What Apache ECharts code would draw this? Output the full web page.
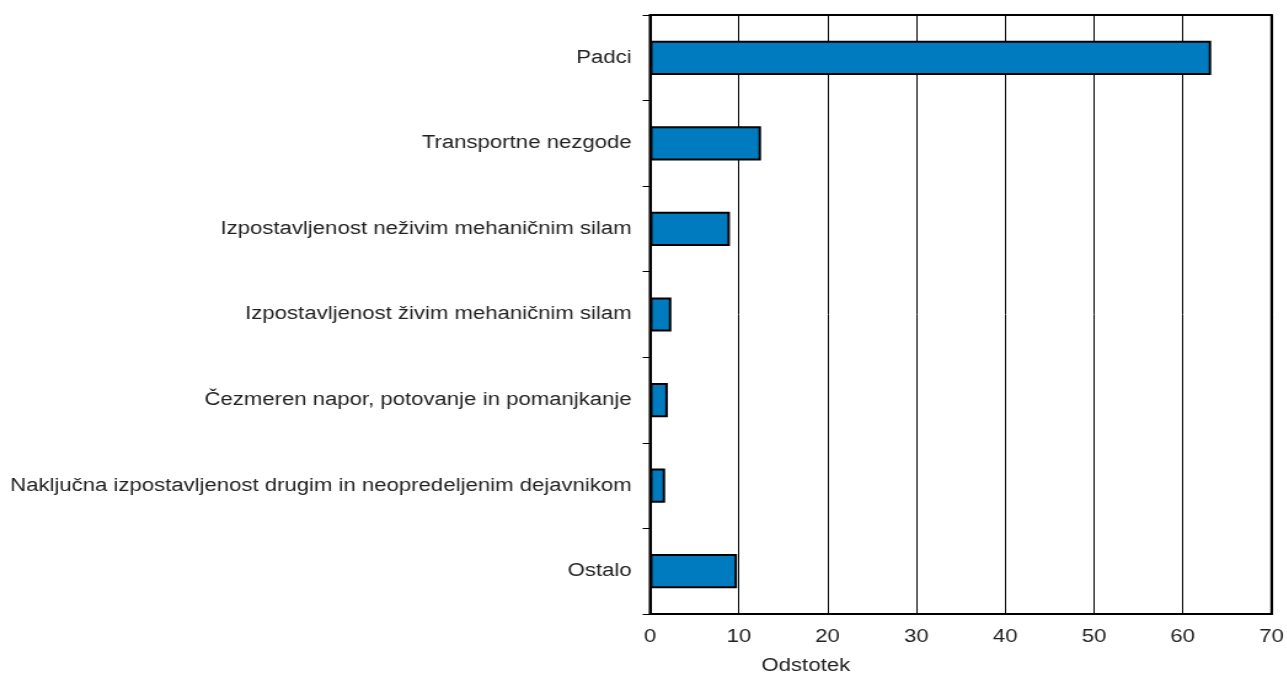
<!DOCTYPE html>
<html>
<head>
<meta charset="utf-8">
<script src="https://cdn.jsdelivr.net/npm/echarts@6/dist/echarts.min.js"></script>
<style>
html,body{margin:0;padding:0;background:#fff;overflow:hidden;width:1287px;height:675px}
#c{height:675px;transform-origin:0 0}
</style>
</head>
<body>
<div id="c"></div>
<script>
const categories = [
  "Padci",
  "Transportne nezgode",
  "Izpostavljenost neživim mehaničnim silam",
  "Izpostavljenost živim mehaničnim silam",
  "Čezmeren napor, potovanje in pomanjkanje",
  "Naključna izpostavljenost drugim in neopredeljenim dejavnikom",
  "Ostalo"
];
const values = [63.2, 12.5, 9.0, 2.4, 2.0, 1.7, 9.8];
const xTicks = [0, 10, 20, 30, 40, 50, 60, 70];

// The reference is horizontally stretched; reproduce by scaling the rendered chart in x.
const SX = 1.23;
const el = document.getElementById('c');
el.style.width = (1287 / SX) + 'px';
el.style.transform = 'scaleX(' + SX + ')';

const chart = echarts.init(el, null, {renderer: 'canvas'});
chart.setOption({
  animation: false,
  textStyle: {fontFamily: 'Liberation Sans, Arial, sans-serif'},
  grid: {left: 650 / SX, right: 15 / SX, top: 15, bottom: 61, outerBoundsMode: 'none', containLabel: false,
         show: true, borderColor: '#000', borderWidth: 2, backgroundColor: 'transparent'},
  xAxis: {
    type: 'value', min: xTicks[0], max: xTicks[xTicks.length - 1], interval: 10,
    name: 'Odstotek', nameLocation: 'middle', nameGap: 43,
    nameTextStyle: {fontSize: 18, color: '#222', padding: [0, 252, 0, 0]},
    axisLine: {show: true, lineStyle: {color: '#000', width: 2}},
    axisTick: {show: false},
    axisLabel: {fontSize: 18, color: '#222', margin: 14},
    splitLine: {show: true, lineStyle: {color: '#000', width: 1}}
  },
  yAxis: {
    type: 'category', data: categories, inverse: true,
    axisLine: {show: true, lineStyle: {color: '#000', width: 2}},
    axisTick: {show: true, length: 6, lineStyle: {color: '#000'}},
    axisLabel: {fontSize: 18, color: '#222', margin: 15},
    splitLine: {show: false}
  },
  series: [{
    type: 'bar', data: values, barWidth: '40%',
    itemStyle: {color: '#007BBF', borderColor: '#000', borderWidth: 2}
  }]
});
</script>
</body>
</html>
